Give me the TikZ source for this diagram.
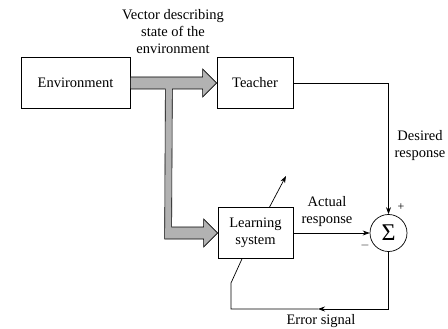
\documentclass[tikz,border=0pt]{standalone}
\usepackage{fontspec}
\setmainfont{Liberation Serif}
\usepackage{tikz}
\usetikzlibrary{arrows.meta,calc}

\begin{document}
\begin{tikzpicture}[x=1pt,y=-1pt,>={Stealth[length=7pt,width=5pt]},line width=0.7pt,
  every node/.style={font=\fontsize{14.5}{17}\selectfont},
  block/.style={draw,minimum height=51pt,inner sep=0pt,align=center},
  sum/.style={draw,circle,minimum size=37pt,inner sep=0pt,font=\fontsize{24}{24}\selectfont},
  lbl/.style={align=center,inner sep=0pt},
  sgn/.style={inner sep=0pt,font=\fontsize{12}{12}\selectfont},
  fat/.style={draw,line width=0.6pt,fill=gray!60}]
\useasboundingbox (0,0) rectangle (448,329);

\node[block,minimum width=109pt] (E) at (75.5,83)  {Environment};
\node[block,minimum width=76pt]  (T) at (255,83)   {Teacher};
\node[block,minimum width=75pt]  (L) at (255.5,233) {Learning\\system};
\node[sum]                       (S) at (388.5,233) {Σ};

\node[lbl] (V)  at (173,32)  {Vector describing\\state of the\\environment};
\node[lbl] (D)  at (420,146) {Desired\\response};
\node[lbl] (A)  at (327,212) {Actual\\response};
\node[lbl] (Er) at (321,321) {Error signal};
\node[sgn] (P)  at (401,207) {+};
\node[sgn] (M)  at (365,245) {$-$};

\coordinate (adj)  at (286,176);
\coordinate (emid) at (318,309);
\coordinate (ecor) at (231,309);
\coordinate (ekin) at (231,283);

% wide arrow: environment vector to teacher and learning system
\filldraw[fat]
  ($(E.east)+(0,-6)$) -- ($(T.west)+(-14,-6)$) -- ($(T.west)+(-14,-14)$)
  -- (T.west) -- ($(T.west)+(-14,14)$) -- ($(T.west)+(-14,6)$)
  -- ($(E.east)+(42,6)$) -- ($(L.west)+(-46,-6)$)
  -- ($(L.west)+(-14,-6)$) -- ($(L.west)+(-14,-14)$)
  -- (L.west) -- ($(L.west)+(-14,14)$) -- ($(L.west)+(-14,6)$)
  -- ($(L.west)+(-53,6)$) -- ($(E.east)+(35,6)$) -- ($(E.east)+(0,6)$) -- cycle;

\draw[->] (T.east) -| (S.north);
\draw[->] (L.east) -- (S.west);
\draw[->] ($(L.north)+(14,0)$) -- (adj);
\draw[->] (S.south) |- (emid);
\draw (emid) -- (ecor) -- (ekin) -- ($(L.south)+(-13.5,0)$);

\end{tikzpicture}
\end{document}
